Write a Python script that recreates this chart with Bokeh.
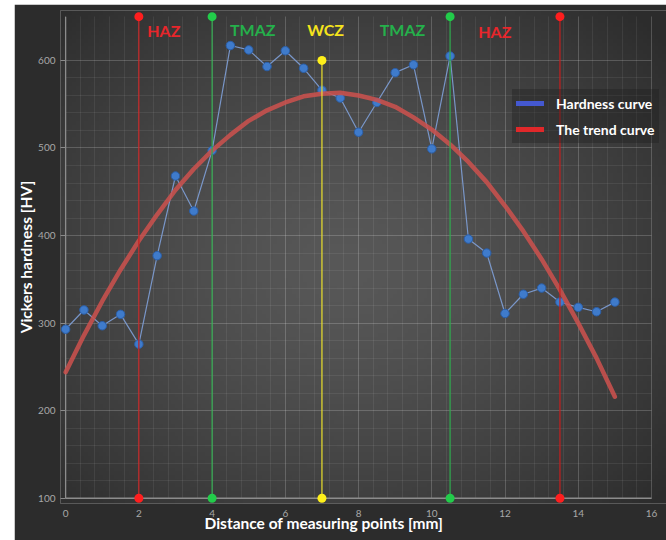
import numpy as np
from bokeh.plotting import figure
from bokeh.models import Range1d, Legend, LegendItem, Title, Label, SingleIntervalTicker
from bokeh.embed import file_html
from bokeh.resources import INLINE

# ---------------- data ----------------
distance_mm = [0, 0.5, 1, 1.5, 2, 2.5, 3, 3.5, 4, 4.5, 5, 5.5, 6, 6.5, 7, 7.5,
               8, 8.5, 9, 9.5, 10, 10.5, 11, 11.5, 12, 12.5, 13, 13.5, 14, 14.5, 15]
hardness_hv = [293, 315, 297, 310, 276, 377, 468, 428, 497, 617, 612, 593, 611, 591, 566, 557,
               518, 552, 586, 595, 499, 605, 396, 380, 311, 333, 340, 324, 318, 313, 324]
trend_hv = [244, 286, 325, 361, 394, 424, 452, 476, 497, 515, 531, 543, 552, 559, 562, 563,
            560, 555, 547, 535, 521, 504, 484, 461, 434, 405, 373, 338, 300, 260, 216]

zone_x = [2, 4, 7, 10.5, 13.5]
zone_bottom = [100, 100, 100, 100, 100]
zone_top = [650, 650, 600, 650, 650]
zone_names = ["HAZ", "TMAZ", "WCZ", "TMAZ", "HAZ"]

x_ticks = [0, 2, 4, 6, 8, 10, 12, 14, 16]
y_ticks = [100, 200, 300, 400, 500, 600]
y_top = 650

legend_labels = ["Hardness curve", "The trend curve"]

# ---------------- style ----------------
FONT = "Lato"
zone_line_colors = ["#c81e1e", "#2fae4f", "#ece22c", "#2fae4f", "#c81e1e"]
zone_dot_colors = ["#ff1e1e", "#22cc4a", "#fff01a", "#22cc4a", "#ff1e1e"]
zone_text_colors = ["#e8262b", "#25b04b", "#f4e31c", "#25b04b", "#e8262b"]
zone_label_pos = [(2.68, 634), (5.11, 635), (7.1, 635), (9.2, 635), (11.72, 633)]

x_range = Range1d(-0.14, 16.41)
y_range = Range1d(94, 657)

p = figure(width=652, height=536, x_range=x_range, y_range=y_range,
           output_backend="svg", toolbar_location=None,
           min_border_left=44, min_border_right=0, min_border_top=6, min_border_bottom=37)
p.margin = (4, 0, 0, 14)
p.border_fill_color = "#2c2c2c"
p.background_fill_color = "#3c3c3c"
p.outline_line_color = None

# radial background shading inside the frame (decoration only)
W, H = 160, 125
px = np.linspace(60, 666, W)
py = np.linspace(503, 10, H)
PX, PY = np.meshgrid(px, py)
d = np.sqrt(((PX - 345) / 420.0) ** 2 + ((PY - 265) / 360.0) ** 2)
d = np.clip(d, 0, 1)
shade = (88 - (88 - 44) * d ** 1.4).astype(np.uint32)
img = (255 << 24) | (shade << 16) | (shade << 8) | shade
p.image_rgba(image=[img.view(np.uint32)], x=x_range.start, y=y_range.start,
             dw=x_range.end - x_range.start, dh=y_range.end - y_range.start, level="image")

# axes (ticks/labels from the axes, lines drawn at x=0 / y=100)
p.xaxis.ticker = SingleIntervalTicker(interval=2, num_minor_ticks=5)
p.yaxis.ticker = SingleIntervalTicker(interval=100, num_minor_ticks=5)
p.xaxis.bounds = (x_ticks[0], x_ticks[-1])
p.yaxis.bounds = (y_ticks[0], y_ticks[-1])
for ax in (p.xaxis, p.yaxis):
    ax.axis_line_color = None
    ax.major_label_text_color = "#a8a8a8"
    ax.major_label_text_font = FONT
    ax.major_label_text_font_size = "10px"
    ax.major_label_text_line_height = 1.0
    ax.minor_tick_line_color = None
p.xaxis.major_tick_line_color = None
p.xaxis.major_tick_out = 0
p.xaxis.major_tick_in = 0
p.xaxis.major_label_standoff = 2
p.yaxis.major_tick_line_color = "#8a8a8a"
p.yaxis.major_tick_out = 0
p.yaxis.major_tick_in = 5
p.yaxis.major_label_standoff = 1
p.yaxis.axis_label = "Vickers hardness [HV]"
p.yaxis.axis_label_text_font = FONT
p.yaxis.axis_label_text_font_style = "bold"
p.yaxis.axis_label_text_font_size = "15.5px"
p.yaxis.axis_label_text_line_height = 1.0
p.yaxis.axis_label_text_color = "#ffffff"
p.yaxis.axis_label_standoff = 0

xlabel = Title(text="Distance of measuring points [mm]", align="left", offset=144,
               vertical_align="top", text_font=FONT, text_font_style="bold",
               text_font_size="15.5px", text_color="#ffffff", standoff=-12,
               text_line_height=1.0)
p.add_layout(xlabel, "below")

# grid
for g in (p.xgrid, p.ygrid):
    g.grid_line_color = "#ffffff"
    g.grid_line_alpha = 0.13
    g.minor_grid_line_color = "#ffffff"
    g.minor_grid_line_alpha = 0.07
if "cross_bounds" in p.xgrid[0].properties():
    p.xgrid.cross_bounds = (y_ticks[0], y_top)
    p.ygrid.cross_bounds = (x_ticks[0], x_ticks[-1])

# axis lines
p.segment(x0=[x_ticks[0], x_ticks[0]], y0=[y_ticks[0], y_ticks[0]],
          x1=[x_ticks[-1], x_ticks[0]], y1=[y_ticks[0], y_top],
          line_color="#8c8c8c", line_width=1.3)

# hardness curve
p.line(distance_mm, hardness_hv, line_color="#7e9fd6", line_width=1.2, line_alpha=0.9)
p.scatter(distance_mm, hardness_hv, size=8.5, fill_color="#3f7bcb", line_color="#2a5ea8",
          line_width=1)

# trend curve
p.line(distance_mm, trend_hv, line_color="#ca514d", line_width=4.5, line_alpha=0.88,
       line_cap="round", line_join="round")

# zone boundaries
p.segment(x0=zone_x, y0=zone_bottom, x1=zone_x, y1=zone_top, line_color=zone_line_colors,
          line_width=1.4, line_alpha=0.85)
p.scatter(zone_x + zone_x, zone_bottom + zone_top, size=9,
          fill_color=zone_dot_colors + zone_dot_colors, line_color=None)

for name, (lx, ly), c in zip(zone_names, zone_label_pos, zone_text_colors):
    p.add_layout(Label(x=lx, y=ly, text=name, text_align="center", text_baseline="middle",
                       text_font=FONT, text_font_style="bold", text_font_size="16px",
                       text_color=c))

# legend (swatches only)
nan = float("nan")
leg_blue = p.line([nan], [nan], line_color="#4458d0", line_width=5, line_cap="round")
leg_red = p.line([nan], [nan], line_color="#e0282a", line_width=5, line_cap="round")
legend = Legend(items=[LegendItem(label=legend_labels[0], renderers=[leg_blue]),
                       LegendItem(label=legend_labels[1], renderers=[leg_red])],
                location=(452, 360), orientation="vertical",
                glyph_width=28, glyph_height=20, label_height=20, spacing=6,
                padding=4, margin=0, label_standoff=12,
                label_text_font=FONT, label_text_font_style="bold",
                label_text_font_size="14px", label_text_color="#ffffff",
                background_fill_color="#1e1e1e", background_fill_alpha=0.35,
                border_line_alpha=0)
p.add_layout(legend)

open("out.html", "w").write(file_html(p, INLINE))
